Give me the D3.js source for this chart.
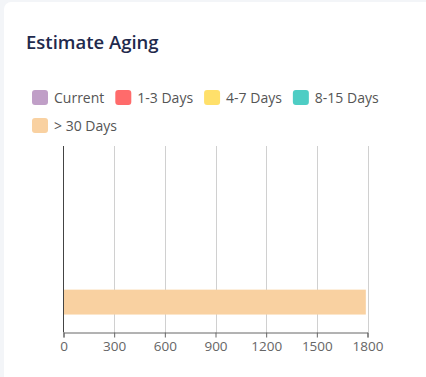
<!DOCTYPE html>
<html><head><meta charset="utf-8">
<script src="https://cdn.jsdelivr.net/npm/d3@7"></script>
<style>
html,body{margin:0;padding:0;background:#f3f5f8;}
#card{position:absolute;left:4px;top:2px;width:440px;height:400px;background:#fff;border-radius:7px;}
svg{position:absolute;left:0;top:0;}
</style></head>
<body><div id="card"></div><svg id="chart" width="426" height="377"></svg>
<script>
const title = "Estimate Aging";
const categories = ["Estimate"];
const seriesNames = ["Current", "1-3 Days", "4-7 Days", "8-15 Days", "> 30 Days"];
const seriesColors = ["#c09fc7", "#ff6b6b", "#ffe06a", "#4ecdc4", "#f9d1a1"];
const seriesValues = [0, 0, 0, 0, 1790];
const xTicks = [0, 300, 600, 900, 1200, 1500, 1800];

const svg = d3.select("#chart");
const font = "'Open Sans', sans-serif";

svg.append("text").attr("x", 26).attr("y", 48.5).text(title)
  .attr("font-family", font).attr("font-size", 18.5).attr("font-weight", 600).attr("fill", "#1f2a4d");

// legend
const rows = [[0,1,2,3],[4]];
const lg = svg.append("g");
rows.forEach((r, ri) => {
  let lx = 32;
  const cy = 98 + ri * 28;
  r.forEach(i => {
    lg.append("rect").attr("x", lx).attr("y", cy - 8).attr("width", 16).attr("height", 15)
      .attr("rx", 3).attr("fill", seriesColors[i]);
    const t = lg.append("text").attr("x", lx + 22).attr("y", cy + 5).text(seriesNames[i])
      .attr("font-family", font).attr("font-size", 14).attr("fill", "#555");
    lx += 22 + t.node().getComputedTextLength() + 11;
  });
});

const pLeft = 63.5, pRight = 367.5, pTop = 146, pBottom = 332.5;
const x = d3.scaleLinear().domain([0, 1800]).range([pLeft, pRight]);
const y0 = d3.scaleBand().domain(categories).range([pTop, pBottom]).paddingInner(0.1).paddingOuter(0.1);
const y1 = d3.scaleBand().domain(seriesNames).range([0, y0.bandwidth()]).paddingInner(0.22);

// grid
svg.append("g").selectAll("line").data(xTicks.slice(1)).join("line")
  .attr("x1", d => Math.round(x(d)) + 0.5).attr("x2", d => Math.round(x(d)) + 0.5)
  .attr("y1", pTop).attr("y2", pBottom).attr("stroke", "#d0d0d0");

// bars
const bars = [];
categories.forEach(c => seriesNames.forEach((s, i) => bars.push({c, s, v: seriesValues[i], color: seriesColors[i]})));
svg.append("g").selectAll("rect").data(bars).join("rect")
  .attr("x", x(0)).attr("y", d => y0(d.c) + y1(d.s) - 1)
  .attr("width", d => x(d.v) - x(0)).attr("height", y1.bandwidth())
  .attr("fill", d => d.color);

// x axis
const xa = svg.append("g").attr("transform", `translate(0,${pBottom})`)
  .call(d3.axisBottom(x).tickValues(xTicks).tickSize(5).tickPadding(4).tickFormat(d3.format("d")));
xa.selectAll("path,line").attr("stroke", "#666");
xa.selectAll("text").attr("font-family", font).attr("font-size", 13.5).attr("fill", "#666");

// y axis
const ya = svg.append("g").attr("transform", `translate(${pLeft},0)`)
  .call(d3.axisLeft(y0).tickSize(0).tickFormat(""));
ya.select("path").attr("d", `M0,${pTop}V${pBottom}`).attr("stroke", "#444");
</script></body></html>
